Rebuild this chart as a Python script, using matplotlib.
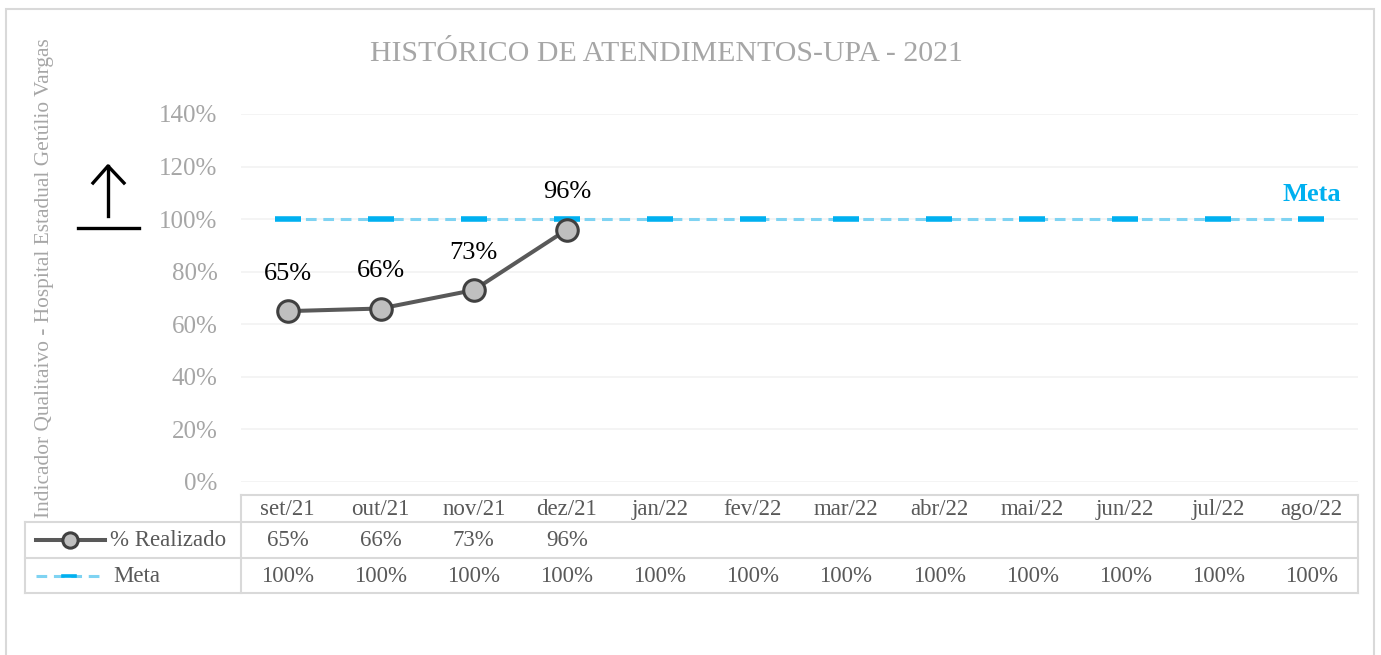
import matplotlib.pyplot as plt
from matplotlib.lines import Line2D
from matplotlib.patches import Rectangle
from matplotlib.ticker import FuncFormatter

# ======== DADOS ========
meses = ["set/21", "out/21", "nov/21", "dez/21", "jan/22", "fev/22",
         "mar/22", "abr/22", "mai/22", "jun/22", "jul/22", "ago/22"]
realizado = [0.65, 0.66, 0.73, 0.96]
meta = [1.0] * 12

titulo = "HISTÓRICO DE ATENDIMENTOS-UPA - 2021"
rotulo_y = "Indicador Qualitaivo - Hospital Estadual Getúlio Vargas"

W, H = 1381, 655
plt.rcParams['font.family'] = ['Liberation Serif', 'DejaVu Serif']

cinza_claro = "#A6A6A6"
cinza_tab = "#595959"
azul = "#00B0F0"
azul_claro = "#7FD3F2"


def fx(x):
    return x / W


def fy(y):
    return 1 - y / H


fig = plt.figure(figsize=(W / 100, H / 100), dpi=100)
ax = fig.add_axes([fx(241), fy(482), fx(1358) - fx(241), fy(114) - fy(482)])

x = list(range(len(meses)))
ax.set_xlim(-0.5, len(meses) - 0.5)
ax.set_ylim(0, 1.4)
ax.set_yticks([0, 0.2, 0.4, 0.6, 0.8, 1.0, 1.2, 1.4])
ax.yaxis.set_major_formatter(FuncFormatter(lambda v, p: f"{v * 100:.0f}%"))
ax.tick_params(axis='y', length=0, labelsize=18, labelcolor=cinza_claro, pad=17)
ax.set_xticks([])
for s in ax.spines.values():
    s.set_visible(False)
ax.grid(axis='y', color="#F2F2F2", linewidth=1.2)
ax.set_axisbelow(True)

# linha da meta
ax.plot(x, meta, color=azul_claro, linewidth=2.2, dashes=(3.5, 2.2),
        marker='_', markersize=19, markeredgewidth=4, markeredgecolor=azul,
        zorder=2)

# realizado
ax.plot(x[:len(realizado)], realizado, color="#595959", linewidth=2.9,
        marker='o', markersize=15.5, markerfacecolor="#BFBFBF",
        markeredgecolor="#404040", markeredgewidth=2.2, zorder=3)
for i, v in enumerate(realizado):
    ax.annotate(f"{v * 100:.0f}%", (i, v), xytext=(0, 27),
                textcoords='offset points', ha='center', va='center',
                fontsize=19, color='black')

ax.annotate("Meta", (11, meta[-1]), xytext=(0, 18), textcoords='offset points',
            ha='center', va='center', fontsize=19, fontweight='bold', color=azul)

# titulo e rotulo y
fig.text(fx(666), fy(54), titulo, ha='center', va='center', fontsize=21.5,
         color=cinza_claro)
fig.text(fx(45), fy(278), rotulo_y, rotation=90, ha='center', va='center',
         fontsize=15.4, color=cinza_claro)

# seta
lw_seta = 2.4
fig.add_artist(Line2D([fx(108), fx(108)], [fy(216), fy(166)], color='black',
                      linewidth=lw_seta, transform=fig.transFigure))
fig.add_artist(Line2D([fx(93), fx(108), fx(124)], [fy(183), fy(166), fy(183)],
                      color='black', linewidth=lw_seta,
                      transform=fig.transFigure))
fig.add_artist(Line2D([fx(78), fx(139)], [fy(228), fy(228)], color='black',
                      linewidth=lw_seta, transform=fig.transFigure))

# borda externa
fig.add_artist(Rectangle((fx(6), fy(660)), fx(1374) - fx(6), fy(9) - fy(660),
                         fill=False, edgecolor="#D9D9D9", linewidth=1.5,
                         transform=fig.transFigure))

# tabela de dados
borda = "#D9D9D9"
x0, x1, xl = 241, 1358, 25
y_top, y_r1, y_r2, y_bot = 495, 522, 558, 593


def hline(xa, xb, y):
    fig.add_artist(Line2D([fx(xa), fx(xb)], [fy(y), fy(y)], color=borda,
                          linewidth=1.5, transform=fig.transFigure))


def vline(xp, ya, yb):
    fig.add_artist(Line2D([fx(xp), fx(xp)], [fy(ya), fy(yb)], color=borda,
                          linewidth=1.5, transform=fig.transFigure))


hline(x0, x1, y_top)
hline(xl, x1, y_r1)
hline(xl, x1, y_r2)
hline(xl, x1, y_bot)
vline(x0, y_top, y_bot)
vline(x1, y_top, y_bot)
vline(xl, y_r1, y_bot)

col_w = (x1 - x0) / len(meses)
for i, m in enumerate(meses):
    cx = x0 + col_w * (i + 0.5)
    fig.text(fx(cx), fy((y_top + y_r1) / 2 + 1), m, ha='center', va='center',
             fontsize=16.5, color=cinza_tab)
    if i < len(realizado):
        fig.text(fx(cx), fy((y_r1 + y_r2) / 2 + 1), f"{realizado[i] * 100:.0f}%",
                 ha='center', va='center', fontsize=16.5, color=cinza_tab)
    fig.text(fx(cx), fy((y_r2 + y_bot) / 2 + 1), f"{meta[i] * 100:.0f}%",
             ha='center', va='center', fontsize=16.5, color=cinza_tab)

# chaves da legenda na tabela
yk1 = (y_r1 + y_r2) / 2
fig.add_artist(Line2D([fx(36), fx(105)], [fy(yk1), fy(yk1)], color="#595959",
                      linewidth=2.9, transform=fig.transFigure))
fig.add_artist(Line2D([fx(70)], [fy(yk1)], marker='o', markersize=11,
                      markerfacecolor="#BFBFBF", markeredgecolor="#404040",
                      markeredgewidth=2.2, linestyle='none',
                      transform=fig.transFigure))
fig.text(fx(110), fy(yk1 + 1), "% Realizado", ha='left', va='center',
         fontsize=16.5, color=cinza_tab)

yk2 = (y_r2 + y_bot) / 2
fig.add_artist(Line2D([fx(36), fx(100)], [fy(yk2), fy(yk2)], color=azul_claro,
                      linewidth=2.2, dashes=(3.5, 2.2),
                      transform=fig.transFigure))
fig.add_artist(Line2D([fx(63), fx(75)], [fy(yk2), fy(yk2)], color=azul,
                      linewidth=2.6, transform=fig.transFigure))
fig.text(fx(113), fy(yk2 + 1), "Meta", ha='left', va='center',
         fontsize=16.5, color=cinza_tab)

plt.savefig("out.png", dpi=100)
